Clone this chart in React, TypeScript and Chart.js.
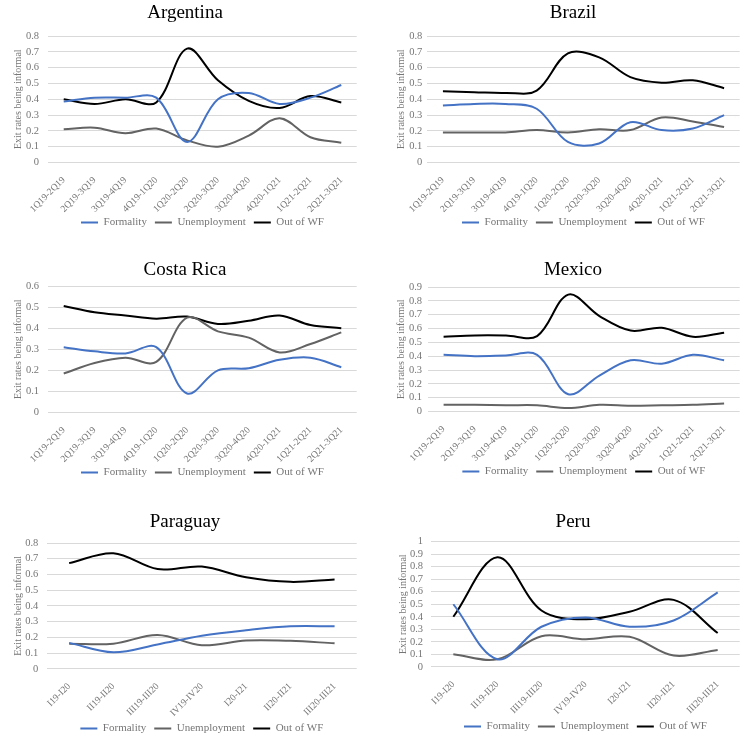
import React, { useEffect, useRef } from 'react';
import { Chart, registerables } from 'chart.js';

Chart.register(...registerables);

const FONT = "'Liberation Serif', 'Times New Roman', serif";

// ---- categories ----
const quarterCats = ['1Q19-2Q19', '2Q19-3Q19', '3Q19-4Q19', '4Q19-1Q20', '1Q20-2Q20', '2Q20-3Q20', '3Q20-4Q20', '4Q20-1Q21', '1Q21-2Q21', '2Q21-3Q21'];
const romanCats = ['I19-I20', 'II19-II20', 'III19-III20', 'IV19-IV20', 'I20-I21', 'II20-II21', 'III20-III21'];

const seriesNames = ['Formality', 'Unemployment', 'Out of WF'];
const yTitle = 'Exit rates being informal';

// ---- Argentina ----
const argFormality = [0.385, 0.41, 0.41, 0.41, 0.13, 0.40, 0.44, 0.37, 0.41, 0.49];
const argUnemployment = [0.21, 0.22, 0.185, 0.215, 0.14, 0.10, 0.17, 0.28, 0.16, 0.125];
const argOutWF = [0.40, 0.37, 0.40, 0.38, 0.72, 0.52, 0.39, 0.345, 0.42, 0.38];

// ---- Brazil ----
const braFormality = [0.36, 0.37, 0.37, 0.34, 0.13, 0.12, 0.255, 0.205, 0.215, 0.30];
const braUnemployment = [0.19, 0.19, 0.19, 0.205, 0.19, 0.21, 0.205, 0.285, 0.26, 0.225];
const braOutWF = [0.45, 0.445, 0.44, 0.455, 0.69, 0.665, 0.54, 0.505, 0.52, 0.47];

// ---- Costa Rica ----
const crFormality = [0.31, 0.29, 0.28, 0.31, 0.09, 0.20, 0.21, 0.25, 0.26, 0.215];
const crUnemployment = [0.185, 0.235, 0.26, 0.24, 0.45, 0.385, 0.355, 0.285, 0.325, 0.38];
const crOutWF = [0.505, 0.475, 0.46, 0.445, 0.455, 0.42, 0.435, 0.46, 0.415, 0.40];

// ---- Mexico ----
const mexFormality = [0.41, 0.40, 0.405, 0.41, 0.125, 0.26, 0.37, 0.345, 0.41, 0.37];
const mexUnemployment = [0.048, 0.048, 0.045, 0.045, 0.025, 0.048, 0.042, 0.045, 0.048, 0.058];
const mexOutWF = [0.54, 0.55, 0.55, 0.545, 0.845, 0.69, 0.585, 0.605, 0.54, 0.57];

// ---- Paraguay ----
const parFormality = [0.165, 0.105, 0.155, 0.21, 0.245, 0.27, 0.27];
const parUnemployment = [0.16, 0.16, 0.215, 0.15, 0.18, 0.178, 0.162];
const parOutWF = [0.672, 0.735, 0.634, 0.65, 0.582, 0.553, 0.568];

// ---- Peru ----
const peruFormality = [0.50, 0.06, 0.32, 0.395, 0.32, 0.37, 0.595];
const peruUnemployment = [0.10, 0.06, 0.245, 0.22, 0.24, 0.09, 0.135];
const peruOutWF = [0.40, 0.875, 0.45, 0.38, 0.44, 0.535, 0.27];

// ---- y axis maxima ----
const yMax = { Argentina: 0.8, Brazil: 0.8, 'Costa Rica': 0.6, Mexico: 0.9, Paraguay: 0.8, Peru: 1 };

const COLORS = ['#4472c4', '#636363', '#000000'];
const TICK_COLOR = '#767676';

type Box = {
  left: number; top: number; w: number; h: number;
  tpt: number; tpb: number; yW: number; yTickPad: number; yTitlePad: number; yR: number; xH: number;
};

type Spec = { name: string; cats: string[]; series: number[][]; box: Box };

const specs: Spec[] = [
  { name: 'Argentina', cats: quarterCats, series: [argFormality, argUnemployment, argOutWF],
    box: { left: 0, top: 0, w: 370, h: 238, tpt: 1.6, tpb: 11.6, yW: 48.3, yTickPad: 9.3, yTitlePad: 12.3, yR: 13.3, xH: 46.5 } },
  { name: 'Brazil', cats: quarterCats, series: [braFormality, braUnemployment, braOutWF],
    box: { left: 378, top: 0, w: 390, h: 238, tpt: 1.4, tpb: 11.8, yW: 49.3, yTickPad: 5, yTitlePad: 17.3, yR: 28.3, xH: 46.5 } },
  { name: 'Costa Rica', cats: quarterCats, series: [crFormality, crUnemployment, crOutWF],
    box: { left: 0, top: 250, w: 370, h: 238, tpt: 8.6, tpb: 4.6, yW: 48.3, yTickPad: 9.3, yTitlePad: 12.3, yR: 13.3, xH: 46.5 } },
  { name: 'Mexico', cats: quarterCats, series: [mexFormality, mexUnemployment, mexOutWF],
    box: { left: 378, top: 250, w: 390, h: 237, tpt: 9.1, tpb: 5.1, yW: 50, yTickPad: 6, yTitlePad: 17.3, yR: 28.3, xH: 46.5 } },
  { name: 'Paraguay', cats: romanCats, series: [parFormality, parUnemployment, parOutWF],
    box: { left: 0, top: 500, w: 370, h: 244, tpt: 10.3, tpb: 9.9, yW: 47, yTickPad: 8.7, yTitlePad: 12.3, yR: 13.3, xH: 46.2 } },
  { name: 'Peru', cats: romanCats, series: [peruFormality, peruUnemployment, peruOutWF],
    box: { left: 378, top: 500, w: 390, h: 242, tpt: 10.3, tpb: 8.6, yW: 53.3, yTickPad: 8.3, yTitlePad: 19, yR: 28.3, xH: 46.2 } },
];

// let the rotated category labels run below the axis box (they overlap nothing there)
const unclipLabels = {
  id: 'unclipLabels',
  beforeDraw(chart: any) {
    const s = chart.scales && chart.scales.x;
    if (s) s._computeLabelArea = () => undefined;
  },
};

function ChartBox({ spec }: { spec: Spec }) {
  const ref = useRef<HTMLCanvasElement | null>(null);
  useEffect(() => {
    if (!ref.current) return;
    const b = spec.box;
    const chart = new Chart(ref.current, {
      type: 'line',
      data: {
        labels: spec.cats,
        datasets: spec.series.map((d, i) => ({
          label: seriesNames[i],
          data: d,
          borderColor: COLORS[i],
          backgroundColor: COLORS[i],
          borderWidth: 2,
          pointRadius: 0,
          pointHoverRadius: 0,
          tension: 0.35,
          fill: false,
          yAxisID: 'y',
        })),
      },
      plugins: [unclipLabels],
      options: {
        animation: false,
        responsive: false,
        maintainAspectRatio: false,
        devicePixelRatio: 1,
        layout: { padding: 0 },
        plugins: {
          title: {
            display: true,
            text: spec.name,
            color: '#000',
            font: { family: FONT, size: 19, weight: 'normal' },
            padding: { top: b.tpt, bottom: b.tpb },
          },
          legend: {
            position: 'bottom',
            fullSize: false,
            labels: {
              usePointStyle: true,
              pointStyle: 'line',
              pointStyleWidth: 17,
              padding: 8,
              color: TICK_COLOR,
              font: { family: FONT, size: 11 },
            },
          },
          tooltip: { enabled: false },
        },
        scales: {
          x: {
            type: 'category',
            offset: true,
            grid: { display: false },
            border: { display: false },
            ticks: {
              autoSkip: false,
              maxRotation: 45,
              minRotation: 45,
              padding: 4,
              color: TICK_COLOR,
              font: { family: FONT, size: 9.5 },
            },
            afterFit: (s: any) => { s.height = b.xH; },
          },
          y: {
            type: 'linear',
            position: 'left',
            min: 0,
            max: (yMax as any)[spec.name],
            ticks: {
              stepSize: 0.1,
              autoSkip: false,
              padding: b.yTickPad,
              color: TICK_COLOR,
              font: { family: FONT, size: 10.5 },
              callback: (v: any) => String(Math.round(Number(v) * 10) / 10),
            },
            grid: { color: '#d9d9d9', drawTicks: false, lineWidth: 1 },
            border: { display: false },
            title: {
              display: true,
              text: yTitle,
              color: TICK_COLOR,
              font: { family: FONT, size: 10 },
              padding: { top: b.yTitlePad, bottom: 0 },
            },
            afterFit: (s: any) => { s.width = b.yW; },
          },
          yr: {
            type: 'linear',
            position: 'right',
            display: true,
            grid: { display: false },
            border: { display: false },
            ticks: { display: false },
            afterFit: (s: any) => { s.width = b.yR; },
          },
        },
      } as any,
    });
    return () => chart.destroy();
  }, [spec]);
  const b = spec.box;
  return (
    <canvas
      ref={ref}
      width={b.w}
      height={b.h}
      style={{ position: 'absolute', left: b.left, top: b.top, width: b.w, height: b.h }}
    />
  );
}

export default function App() {
  return (
    <div style={{ position: 'absolute', left: 0, top: 0, width: 756, height: 741, overflow: 'hidden', background: '#fff' }}>
      {specs.map((s) => (
        <ChartBox key={s.name} spec={s} />
      ))}
    </div>
  );
}
